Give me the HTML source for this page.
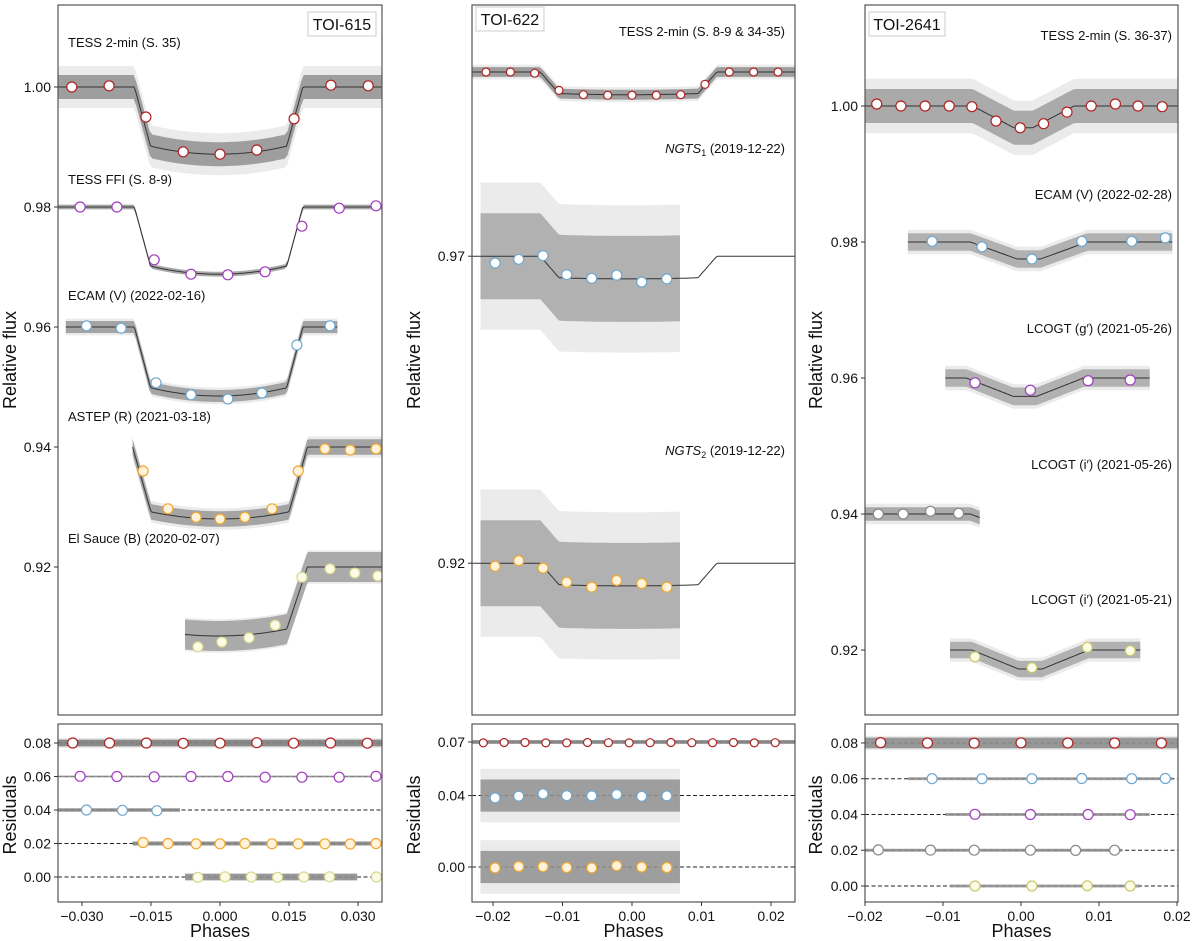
<!DOCTYPE html>
<html><head><meta charset="utf-8">
<style>
html,body{margin:0;padding:0;background:#fff;}
svg{display:block;font-family:"Liberation Sans","DejaVu Sans",sans-serif;}
</style></head>
<body>
<svg id="fig" width="1200" height="941" viewBox="0 0 1200 941" xmlns="http://www.w3.org/2000/svg">
<defs>
<clipPath id="c1m"><rect x="58" y="5" width="324" height="710"/></clipPath>
<clipPath id="c1r"><rect x="58" y="724" width="324" height="178"/></clipPath>
<clipPath id="c2m"><rect x="472" y="5" width="323" height="710"/></clipPath>
<clipPath id="c2r"><rect x="472" y="724" width="323" height="178"/></clipPath>
<clipPath id="c3m"><rect x="865" y="5" width="313" height="710"/></clipPath>
<clipPath id="c3r"><rect x="865" y="724" width="313" height="178"/></clipPath>
</defs>
</svg>
<script>
// ---------- data arrays ----------
// Panel 1: TOI-615
const p1TessPhase=[-0.0322,-0.0241,-0.0161,-0.0080,0,0.0080,0.0161,0.0241,0.0322];
const p1TessFlux=[1.000,1.0002,0.995,0.9892,0.9888,0.9895,0.9947,1.0003,1.0002];
const p1FfiPhase=[-0.0304,-0.0224,-0.0143,-0.0063,0.0017,0.0098,0.0178,0.0259,0.0339];
const p1FfiFlux=[0.98,0.98,0.9712,0.9688,0.9687,0.9692,0.9768,0.9798,0.9802];
const p1EcamPhase=[-0.029,-0.0215,-0.0139,-0.0063,0.0017,0.0091,0.0167,0.0239];
const p1EcamFlux=[0.9602,0.9598,0.9507,0.9487,0.948,0.949,0.957,0.9602];
const p1AstepPhase=[-0.0167,-0.0113,-0.0052,0,0.0054,0.0113,0.0170,0.0228,0.0283,0.0339];
const p1AstepFlux=[0.936,0.9297,0.9283,0.928,0.9283,0.9297,0.936,0.9397,0.9395,0.9397];
const p1SaucePhase=[-0.0048,0.0004,0.0063,0.012,0.0178,0.0239,0.0293,0.0343];
const p1SauceFlux=[0.9067,0.9075,0.9082,0.9103,0.9183,0.9197,0.919,0.9185];
const p1ResTessPhase=[-0.0320,-0.0240,-0.0160,-0.0080,0,0.0080,0.0160,0.0240,0.0320];
const p1ResTess=[0.0800,0.0800,0.0800,0.0798,0.0799,0.0802,0.0799,0.0800,0.0799];
const p1ResFfiPhase=[-0.0304,-0.0224,-0.0143,-0.0063,0.0017,0.0098,0.0178,0.0259,0.0339];
const p1ResFfi=[0.0601,0.0600,0.0598,0.0600,0.0600,0.0596,0.0596,0.0596,0.0601];
const p1ResEcamPhase=[-0.0290,-0.0212,-0.0137];
const p1ResEcam=[0.0400,0.0398,0.0396];
const p1ResAstepPhase=[-0.0167,-0.0113,-0.0052,0,0.0054,0.0113,0.0170,0.0228,0.0283,0.0339];
const p1ResAstep=[0.0206,0.0200,0.0198,0.0198,0.0200,0.0198,0.0198,0.0198,0.0197,0.0200];
const p1ResSaucePhase=[-0.0048,0.0011,0.0068,0.0125,0.0182,0.0238,0.0340];
const p1ResSauce=[-0.0002,0.0001,0.0000,-0.0002,0.0000,0.0001,0.0000];
// Panel 2: TOI-622
const p2TessPhase=[-0.021,-0.0175,-0.014,-0.0105,-0.007,-0.0035,0,0.0035,0.007,0.0105,0.014,0.0175,0.021];
const p2TessFlux=[1.0,1.0,0.9998,0.997,0.9963,0.9962,0.9962,0.9962,0.9963,0.998,1.0,1.0,1.0];
const p2Ngts1Phase=[-0.0197,-0.0163,-0.0128,-0.0094,-0.0058,-0.0022,0.0014,0.005];
const p2Ngts1Flux=[0.9689,0.9695,0.9701,0.9670,0.9664,0.9669,0.9658,0.9663];
const p2Ngts2Phase=[-0.0197,-0.0163,-0.0128,-0.0094,-0.0058,-0.0022,0.0014,0.005];
const p2Ngts2Flux=[0.9195,0.9204,0.9192,0.9169,0.9161,0.9172,0.9167,0.9161];
const p2ResTessPhase=[-0.0214,-0.0184,-0.0154,-0.0124,-0.0094,-0.0064,-0.0034,-0.0004,0.0026,0.0056,0.0086,0.0116,0.0146,0.0176,0.0206];
const p2ResTess=[0.0695,0.0697,0.0697,0.0695,0.0695,0.0697,0.0696,0.0695,0.0696,0.0697,0.0696,0.0696,0.0697,0.0695,0.0696];
const p2ResN1Phase=[-0.0197,-0.0163,-0.0128,-0.0094,-0.0058,-0.0022,0.0014,0.005];
const p2ResN1=[0.0387,0.0397,0.0410,0.0400,0.0398,0.0406,0.0396,0.0398];
const p2ResN2Phase=[-0.0197,-0.0163,-0.0128,-0.0094,-0.0058,-0.0022,0.0014,0.005];
const p2ResN2=[-0.0005,0.0003,0.0002,-0.0003,-0.0005,0.0007,0.0000,-0.0003];
// Panel 3: TOI-2641
const p3TessPhase=[-0.0185,-0.0154,-0.0123,-0.0092,-0.0063,-0.0032,-0.0001,0.0029,0.0059,0.009,0.0121,0.015,0.0181];
const p3TessFlux=[1.0003,1,1,1,0.9999,0.9978,0.9968,0.9974,0.9991,1.0,1.0003,1.0,0.9999];
const p3EcamPhase=[-0.0114,-0.005,0.0014,0.0078,0.0142,0.0185];
const p3EcamFlux=[0.9801,0.9793,0.9775,0.9801,0.9801,0.9806];
const p3GPhase=[-0.0059,0.0012,0.0086,0.014];
const p3GFlux=[0.9593,0.9582,0.9596,0.9597];
const p3I26Phase=[-0.0183,-0.0151,-0.0116,-0.0080];
const p3I26Flux=[0.9400,0.9400,0.9404,0.9401];
const p3I21Phase=[-0.0059,0.0014,0.0085,0.014];
const p3I21Flux=[0.9190,0.9174,0.9204,0.9199];
const p3ResTessPhase=[-0.0180,-0.0120,-0.0060,0,0.0060,0.0120,0.0180];
const p3ResTess=[0.0802,0.0800,0.0799,0.0801,0.0800,0.0800,0.0800];
const p3ResEcamPhase=[-0.0114,-0.005,0.0014,0.0078,0.0142,0.0185];
const p3ResEcam=[0.0600,0.0600,0.0600,0.0601,0.0600,0.0601];
const p3ResGPhase=[-0.0059,0.0012,0.0086,0.014];
const p3ResG=[0.0401,0.0400,0.0400,0.0399];
const p3ResI26Phase=[-0.0183,-0.0116,-0.0060,0.0012,0.0070,0.0120];
const p3ResI26=[0.0202,0.0201,0.0200,0.0200,0.0199,0.0200];
const p3ResI21Phase=[-0.0059,0.0014,0.0085,0.014];
const p3ResI21=[0.0000,0.0000,0.0001,0.0000];
// tick labels
const p1MainTicks=[1.00,0.98,0.96,0.94,0.92];
const p1ResTicks=[0.08,0.06,0.04,0.02,0.00];
const p1XTicks=[-0.030,-0.015,0.000,0.015,0.030];
const p2MainTicks=[0.97,0.92];
const p2ResTicks=[0.07,0.04,0.00];
const p2XTicks=[-0.02,-0.01,0.00,0.01,0.02];
const p3MainTicks=[1.00,0.98,0.96,0.94,0.92];
const p3ResTicks=[0.08,0.06,0.04,0.02,0.00];
const p3XTicks=[-0.02,-0.01,0.00,0.01,0.02];

// ---------- panels (axis geometry) ----------
const panels=[
 {id:1,x0:58,x1:382,xmin:-0.0352,xmax:0.0352,mTop:5,mBot:715,rTop:724,rBot:902,
  my0:87,mv0:1.0,mscale:6000,ry0:877,rscale:1675,title:'TOI-615',titleX:308,titleW:68,titleY:12,
  mTicks:p1MainTicks,rTicks:p1ResTicks,xTicks:p1XTicks,xdec:3,ylabX:16},
 {id:2,x0:472,x1:795,xmin:-0.02302,xmax:0.02345,mTop:5,mBot:715,rTop:724,rBot:902,
  my0:72,mv0:1.0,mscale:6140,ry0:867,rscale:1786,title:'TOI-622',titleX:476,titleW:68,titleY:7,
  mTicks:p2MainTicks,rTicks:p2ResTicks,xTicks:p2XTicks,xdec:2,ylabX:420},
 {id:3,x0:865,x1:1178,xmin:-0.02,xmax:0.02013,mTop:5,mBot:715,rTop:724,rBot:902,
  my0:106,mv0:1.0,mscale:6800,ry0:886,rscale:1788,title:'TOI-2641',titleX:869,titleW:76,titleY:12,
  mTicks:p3MainTicks,rTicks:p3ResTicks,xTicks:p3XTicks,xdec:2,ylabX:822}
];
function px(p,x){return p.x0+(x-p.xmin)/(p.xmax-p.xmin)*(p.x1-p.x0);}
function py(p,v){return p.my0+(p.mv0-v)*p.mscale;}
function pr(p,v){return p.ry0-v*p.rscale;}

function model(x,m){
 const u=Math.abs(x-m.c);
 if(u>=m.T1) return m.off;
 if(u<=m.T2) return m.off-m.d*(1-m.k*(u/m.T2)*(u/m.T2));
 return m.off-m.d*(1-m.k)*(m.T1-u)/(m.T1-m.T2);
}

const sets=[
 {p:0,name:'tess-2min-615',m:{off:1.0,c:-0.0003,T1:0.0183,T2:0.0148,d:0.0112,k:0.12},lo:-0.036,hi:0.036,sd:0.0020,se:0.0035,op:0.6,
  bp:p1TessPhase,bf:p1TessFlux,edge:'#b22222',fill:'#fff',r:5,roff:0.08,rsd:0.0020,rse:0.003,rp:p1ResTessPhase,rv:p1ResTess},
 {p:0,name:'tess-ffi-615',m:{off:0.98,c:-0.0003,T1:0.0183,T2:0.0148,d:0.0112,k:0.12},lo:-0.036,hi:0.036,sd:0.0004,se:0.0004,op:0.5,
  bp:p1FfiPhase,bf:p1FfiFlux,edge:'#a23cc0',fill:'#fff',r:5,roff:0.06,rsd:0.0005,rse:0.0005,rp:p1ResFfiPhase,rv:p1ResFfi},
 {p:0,name:'ecam-615',m:{off:0.96,c:-0.0003,T1:0.0183,T2:0.0148,d:0.0115,k:0.12},lo:-0.0335,hi:0.0255,sd:0.0010,se:0.0014,op:0.55,
  bp:p1EcamPhase,bf:p1EcamFlux,edge:'#6fa8d0',fill:'#fff',r:5,roff:0.04,rsd:0.0010,rse:0.001,rp:p1ResEcamPhase,rv:p1ResEcam,rlo:-0.036,rhi:-0.0087},
 {p:0,name:'astep-615',m:{off:0.94,c:0.0,T1:0.0190,T2:0.0150,d:0.0120,k:0.10},lo:-0.0190,hi:0.036,sd:0.0013,se:0.0018,op:0.55,
  bp:p1AstepPhase,bf:p1AstepFlux,edge:'#f0a830',fill:'#fff3dc',r:5,roff:0.02,rsd:0.0012,rse:0.0012,rp:p1ResAstepPhase,rv:p1ResAstep},
 {p:0,name:'el-sauce-615',m:{off:0.92,c:-0.0005,T1:0.0195,T2:0.0150,d:0.0115,k:0.10},lo:-0.0076,hi:0.036,sd:0.0025,se:0.0028,op:0.5,
  bp:p1SaucePhase,bf:p1SauceFlux,edge:'#d8d890',fill:'#fbfbe6',r:5,roff:0.0,rsd:0.0020,rse:0.002,rp:p1ResSaucePhase,rv:p1ResSauce,rhi:0.0298},
 {p:1,name:'tess-2min-622',m:{off:1.0,c:-0.0005,T1:0.0127,T2:0.0100,d:0.0037,k:0.05},lo:-0.024,hi:0.024,sd:0.0008,se:0.0012,op:0.6,
  bp:p2TessPhase,bf:p2TessFlux,edge:'#b22222',fill:'#fff',r:4,roff:0.07,rsd:0.0010,rse:0.0012,rp:p2ResTessPhase,rv:p2ResTess},
 {p:1,name:'ngts1-622',m:{off:0.97,c:-0.0005,T1:0.0127,T2:0.0100,d:0.0037,k:0.05},lo:-0.0218,hi:0.0069,sd:0.0070,se:0.0120,op:0.45,
  bp:p2Ngts1Phase,bf:p2Ngts1Flux,edge:'#6fa8d0',fill:'#fff',r:5,roff:0.04,rsd:0.0090,rse:0.015,rp:p2ResN1Phase,rv:p2ResN1},
 {p:1,name:'ngts2-622',m:{off:0.92,c:-0.0005,T1:0.0127,T2:0.0100,d:0.0037,k:0.05},lo:-0.0218,hi:0.0069,sd:0.0070,se:0.0120,op:0.45,
  bp:p2Ngts2Phase,bf:p2Ngts2Flux,edge:'#f0a830',fill:'#fff3dc',r:5,roff:0.0,rsd:0.0090,rse:0.015,rp:p2ResN2Phase,rv:p2ResN2},
 {p:2,name:'tess-2min-2641',m:{off:1.0,c:0.0003,T1:0.0065,T2:0.0012,d:0.0032,k:0.0},lo:-0.021,hi:0.021,sd:0.0025,se:0.0040,op:0.5,
  bp:p3TessPhase,bf:p3TessFlux,edge:'#b22222',fill:'#fff',r:5,roff:0.08,rsd:0.0030,rse:0.004,rp:p3ResTessPhase,rv:p3ResTess},
 {p:2,name:'ecam-2641',m:{off:0.98,c:0.001,T1:0.0075,T2:0.0015,d:0.0025,k:0.0},lo:-0.0145,hi:0.0194,sd:0.0013,se:0.0018,op:0.45,
  bp:p3EcamPhase,bf:p3EcamFlux,edge:'#6fa8d0',fill:'#fff',r:5,roff:0.06,rsd:0.0008,rse:0.0008,rp:p3ResEcamPhase,rv:p3ResEcam},
 {p:2,name:'lcogt-g-2641',m:{off:0.96,c:0.0005,T1:0.0075,T2:0.0015,d:0.0027,k:0.0},lo:-0.0097,hi:0.0165,sd:0.0013,se:0.0018,op:0.45,
  bp:p3GPhase,bf:p3GFlux,edge:'#a23cc0',fill:'#fff',r:5,roff:0.04,rsd:0.0008,rse:0.0008,rp:p3ResGPhase,rv:p3ResG},
 {p:2,name:'lcogt-i-0526-2641',m:{off:0.94,c:0.001,T1:0.0075,T2:0.0015,d:0.0026,k:0.0},lo:-0.0205,hi:-0.0053,sd:0.0010,se:0.0015,op:0.5,
  bp:p3I26Phase,bf:p3I26Flux,edge:'#888',fill:'#fff',r:5,roff:0.02,rsd:0.0008,rse:0.0008,rp:p3ResI26Phase,rv:p3ResI26,rhi:0.013},
 {p:2,name:'lcogt-i-0521-2641',m:{off:0.92,c:0.0012,T1:0.0075,T2:0.0015,d:0.0028,k:0.0},lo:-0.0091,hi:0.0153,sd:0.0012,se:0.0017,op:0.45,
  bp:p3I21Phase,bf:p3I21Flux,edge:'#c8c870',fill:'#fbfbe6',r:5,roff:0.0,rsd:0.0008,rse:0.0008,rp:p3ResI21Phase,rv:p3ResI21}
];
const labels=[
 {p:0,t:'TESS 2-min (S. 35)',x:68,y:47,a:'start'},
 {p:0,t:'TESS FFI (S. 8-9)',x:68,y:184,a:'start'},
 {p:0,t:'ECAM (V) (2022-02-16)',x:68,y:300,a:'start'},
 {p:0,t:'ASTEP (R) (2021-03-18)',x:68,y:421,a:'start'},
 {p:0,t:'El Sauce (B) (2020-02-07)',x:68,y:543,a:'start'},
 {p:1,t:'TESS 2-min (S. 8-9 & 34-35)',x:785,y:36,a:'end'},
 {p:1,t:'NGTS1',x:785,y:153,a:'end',sub:true},
 {p:1,t:'NGTS2',x:785,y:455,a:'end',sub:true},
 {p:2,t:'TESS 2-min (S. 36-37)',x:1172,y:40,a:'end'},
 {p:2,t:'ECAM (V) (2022-02-28)',x:1172,y:199,a:'end'},
 {p:2,t:'LCOGT (g\u2032) (2021-05-26)',x:1172,y:333,a:'end'},
 {p:2,t:'LCOGT (i\u2032) (2021-05-26)',x:1172,y:469,a:'end'},
 {p:2,t:'LCOGT (i\u2032) (2021-05-21)',x:1172,y:604,a:'end'}
];

const NS='http://www.w3.org/2000/svg';
const svg=document.getElementById('fig');
function el(tag,attrs,parent){const e=document.createElementNS(NS,tag);for(const k in attrs)e.setAttribute(k,attrs[k]);(parent||svg).appendChild(e);return e;}

panels.forEach((p,pi)=>{
 const g=el('g',{});
 
 
 const gm=el('g',{'clip-path':'url(#c'+p.id+'m)'},g);
 const gr=el('g',{'clip-path':'url(#c'+p.id+'r)'},g);
 sets.filter(s=>s.p===pi).forEach(s=>{
  const N=120;const lo=Math.max(s.lo,p.xmin),hi=Math.min(s.hi,p.xmax);
  function band(w){let up=[],dn=[];for(let i=0;i<=N;i++){const x=lo+(hi-lo)*i/N;const v=model(x,s.m);up.push(px(p,x).toFixed(1)+','+py(p,v+w).toFixed(1));dn.unshift(px(p,x).toFixed(1)+','+py(p,v-w).toFixed(1));}return up.concat(dn).join(' ');}
  const eb=el('polygon',{points:band(s.se),fill:'#e2e2e2','fill-opacity':0.7},gm);
  
  
  const db=el('polygon',{points:band(s.sd),fill:'#6a6a6a','fill-opacity':s.op},gm);
  
  
  let mlo=p.xmin,mhi=p.xmax;
  if(s.p===0&&s.name!=='tess-2min-615'&&s.name!=='tess-ffi-615'){mlo=s.lo;mhi=s.hi;}
  if(s.p===2&&s.name!=='tess-2min-2641'){mlo=s.lo;mhi=s.hi;}
  let pts=[];for(let i=0;i<=200;i++){const x=mlo+(mhi-mlo)*i/200;pts.push(px(p,x).toFixed(1)+','+py(p,model(x,s.m)).toFixed(1));}
  const ml=el('polyline',{points:pts.join(' '),fill:'none',stroke:'#333','stroke-width':1},gm);
  
  
  s.bp.forEach((x,i)=>{
   const c=el('circle',{cx:px(p,x).toFixed(1),cy:py(p,s.bf[i]).toFixed(1),r:s.r,fill:s.fill,stroke:s.edge,'stroke-width':1.2},gm);
   
   
  });
  // residuals
  const rl=el('line',{x1:p.x0,x2:p.x1,y1:pr(p,s.roff),y2:pr(p,s.roff),stroke:'#222','stroke-width':1,'stroke-dasharray':'4,2.5'},gr);
  
  
  const rlo=Math.max(s.rlo!==undefined?s.rlo:s.lo,p.xmin),rhi=Math.min(s.rhi!==undefined?s.rhi:s.hi,p.xmax);
  const re=el('rect',{x:px(p,rlo),y:pr(p,s.roff+s.rse),width:px(p,rhi)-px(p,rlo),height:pr(p,s.roff-s.rse)-pr(p,s.roff+s.rse),fill:'#e2e2e2','fill-opacity':0.7},gr);
  
  
  const rb=el('rect',{x:px(p,rlo),y:pr(p,s.roff+s.rsd),width:px(p,rhi)-px(p,rlo),height:pr(p,s.roff-s.rsd)-pr(p,s.roff+s.rsd),fill:'#6a6a6a','fill-opacity':Math.min(0.85,s.op+0.15)},gr);
  
  
  s.rp.forEach((x,i)=>{
   const c=el('circle',{cx:px(p,x).toFixed(1),cy:pr(p,s.rv[i]).toFixed(1),r:s.r,fill:s.fill,stroke:s.edge,'stroke-width':1.2},gr);
   
   
  });
 });
 const fm=el('rect',{x:p.x0,y:p.mTop,width:p.x1-p.x0,height:p.mBot-p.mTop,fill:'none',stroke:'#555','stroke-width':1.2},g);
 
 
 const fr=el('rect',{x:p.x0,y:p.rTop,width:p.x1-p.x0,height:p.rBot-p.rTop,fill:'none',stroke:'#555','stroke-width':1.2},g);
 
 
 p.mTicks.forEach(v=>{
  const y=py(p,v);
  el('line',{x1:p.x0-4,x2:p.x0,y1:y,y2:y,stroke:'#333'},g);
  const t=el('text',{x:p.x0-7,y:y+5,'text-anchor':'end','font-size':14,fill:'#111'},g);
  t.textContent=v.toFixed(2);
  
  
 });
 p.rTicks.forEach(v=>{
  const y=pr(p,v);
  el('line',{x1:p.x0-4,x2:p.x0,y1:y,y2:y,stroke:'#333'},g);
  const t=el('text',{x:p.x0-7,y:y+5,'text-anchor':'end','font-size':14,fill:'#111'},g);
  t.textContent=v.toFixed(2);
  
  
 });
 p.xTicks.forEach(v=>{
  const x=px(p,v);
  el('line',{x1:x,x2:x,y1:p.rBot,y2:p.rBot+4,stroke:'#333'},g);
  const t=el('text',{x:x,y:p.rBot+19,'text-anchor':'middle','font-size':14,fill:'#111'},g);
  t.textContent=(v===0?0:v).toFixed(p.xdec).replace('-','\u2212');
  
  
 });
 const xl=el('text',{x:(p.x0+p.x1)/2,y:937,'text-anchor':'middle','font-size':18,fill:'#111'},g);
 xl.textContent='Phases';
 
 
 const yl=el('text',{x:0,y:0,'text-anchor':'middle','font-size':18,fill:'#111',transform:'translate('+p.ylabX+',360) rotate(-90)'},g);
 yl.textContent='Relative flux';
 
 
 const rl2=el('text',{x:0,y:0,'text-anchor':'middle','font-size':18,fill:'#111',transform:'translate('+p.ylabX+',815) rotate(-90)'},g);
 rl2.textContent='Residuals';
 
 
 const tb=el('rect',{x:p.titleX,y:p.titleY,width:p.titleW,height:24,fill:'#fff',stroke:'#ccc'},g);
 
 
 const tt=el('text',{x:p.titleX+p.titleW/2,y:p.titleY+18,'text-anchor':'middle','font-size':16,fill:'#111'},g);
 tt.textContent=p.title;
 
 
});
labels.forEach(l=>{
 const t=el('text',{x:l.x,y:l.y,'text-anchor':l.a,'font-size':13,fill:'#111'});
 
 
 if(l.sub){
  const a=el('tspan',{'font-style':'italic'},t);a.textContent='NGTS';
  const b=el('tspan',{'font-size':9,dy:3},t);b.textContent=l.t.slice(4);
  const c=el('tspan',{dy:-3},t);c.textContent=' (2019-12-22)';
 } else t.textContent=l.t;
});
</script>
</body></html>
